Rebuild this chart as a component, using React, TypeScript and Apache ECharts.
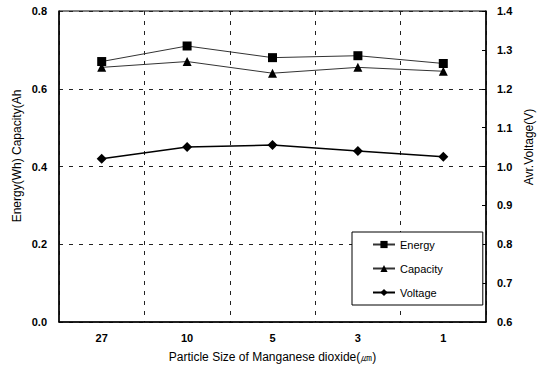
import React, { useEffect, useRef } from "react";
import * as echarts from "echarts";

const categories = ["27", "10", "5", "3", "1"];
const energy = [0.67, 0.71, 0.68, 0.685, 0.665];
const capacity = [0.655, 0.67, 0.64, 0.655, 0.645];
const voltage = [1.02, 1.05, 1.055, 1.04, 1.025];

const FONT = "'Liberation Sans', Arial, sans-serif";

export default function App() {
  const ref = useRef<HTMLDivElement>(null);
  useEffect(() => {
    document.body.style.margin = "0";
    const chart = echarts.init(ref.current!, undefined, { renderer: "svg" });
    const dash = { color: "#222", width: 1, type: [4, 6] as any };
    chart.setOption({
      animation: false,
      backgroundColor: "#fff",
      textStyle: { fontFamily: FONT },
      grid: {
        left: 59,
        right: 55,
        top: 11,
        bottom: 46,
        show: true,
        borderColor: "#000",
        borderWidth: 1,
      },
      legend: {
        orient: "vertical",
        left: 352,
        top: 232,
        padding: [7, 40, 7, 20],
        itemGap: 13,
        itemWidth: 22,
        itemHeight: 9,
        backgroundColor: "#fff",
        borderColor: "#000",
        borderWidth: 1,
        borderRadius: 0,
        textStyle: { fontFamily: FONT, fontSize: 11, color: "#000" },
        data: ["Energy", "Capacity", "Voltage"],
      },
      xAxis: {
        type: "category",
        data: categories,
        boundaryGap: true,
        name: "Particle Size of Manganese dioxide(㎛)",
        nameLocation: "middle",
        nameGap: 29,
        nameTextStyle: { fontFamily: FONT, fontSize: 12, color: "#000" },
        axisLine: { lineStyle: { color: "#000", width: 1.5 } },
        axisTick: { inside: true, length: 3, lineStyle: { color: "#000" } },
        axisLabel: { margin: 10, fontFamily: FONT, fontSize: 11, color: "#000", fontWeight: "bold" },
        splitLine: { show: true, lineStyle: dash },
      },
      yAxis: [
        {
          type: "value",
          min: 0,
          max: 0.8,
          interval: 0.2,
          axisLine: { show: true, lineStyle: { color: "#000", width: 1.5 } },
          axisTick: { show: false },
          axisLabel: {
            margin: 12,
            fontFamily: FONT,
            fontSize: 11,
            color: "#000",
            fontWeight: "bold",
            formatter: (v: number) => v.toFixed(1),
          },
          splitLine: { show: true, lineStyle: dash },
        },
        {
          type: "value",
          min: 0.6,
          max: 1.4,
          interval: 0.1,
          position: "right",
          axisLine: { show: true, lineStyle: { color: "#000", width: 1.5 } },
          axisTick: { show: true, inside: true, length: 4, lineStyle: { color: "#000" } },
          axisLabel: {
            margin: 11,
            fontFamily: FONT,
            fontSize: 11,
            color: "#000",
            fontWeight: "bold",
            formatter: (v: number) => v.toFixed(1),
          },
          splitLine: { show: false },
        },
      ],
      graphic: [
        {
          type: "text",
          x: 17,
          y: 156,
          rotation: Math.PI / 2,
          style: {
            text: "Energy(Wh) Capacity(Ah",
            fontFamily: FONT,
            fontSize: 12,
            fill: "#000",
            align: "center",
            verticalAlign: "middle",
          },
        },
        {
          type: "text",
          x: 529,
          y: 147,
          rotation: Math.PI / 2,
          style: {
            text: "Avr.Voltage(V)",
            fontFamily: FONT,
            fontSize: 12,
            fill: "#000",
            align: "center",
            verticalAlign: "middle",
          },
        },
      ],
      series: [
        {
          name: "Energy",
          type: "line",
          data: energy,
          yAxisIndex: 0,
          symbol: "rect",
          symbolSize: 9,
          itemStyle: { color: "#000" },
          lineStyle: { color: "#333", width: 1 },
        },
        {
          name: "Capacity",
          type: "line",
          data: capacity,
          yAxisIndex: 0,
          symbol: "triangle",
          symbolSize: 9,
          itemStyle: { color: "#000" },
          lineStyle: { color: "#333", width: 1 },
        },
        {
          name: "Voltage",
          type: "line",
          data: voltage,
          yAxisIndex: 1,
          symbol: "diamond",
          symbolSize: 10,
          itemStyle: { color: "#000" },
          lineStyle: { color: "#000", width: 1.5 },
        },
      ],
    });
    return () => chart.dispose();
  }, []);
  return (
    <div
      ref={ref}
      style={{ position: "fixed", left: 0, top: 0, width: 541, height: 368 }}
    />
  );
}
